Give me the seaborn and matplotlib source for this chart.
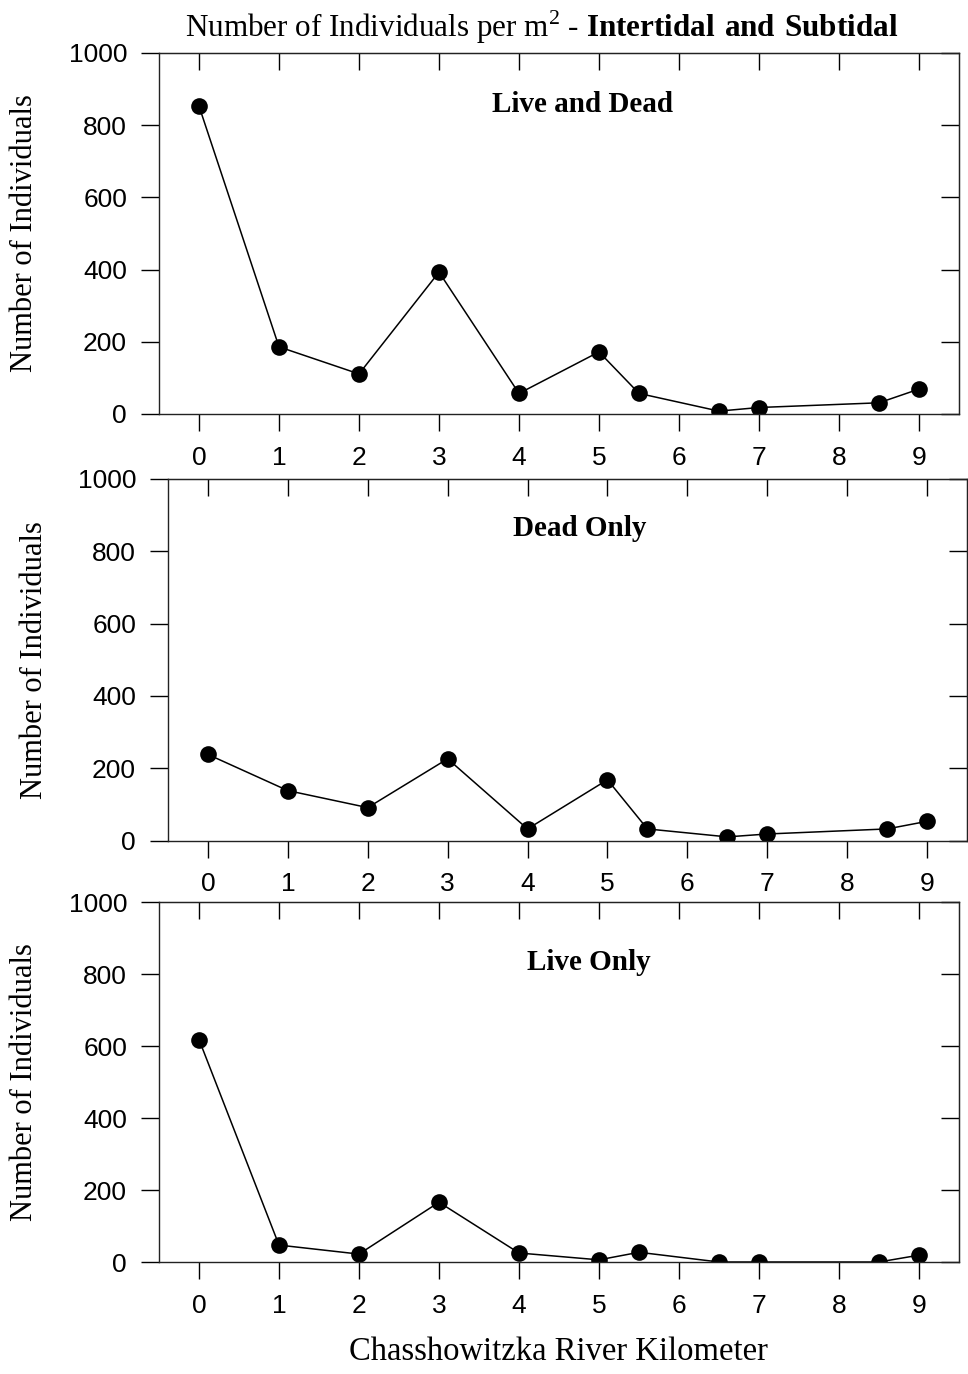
import pandas as pd
import seaborn as sns
import matplotlib.pyplot as plt

# river kilometer stations
km = [0, 1, 2, 3, 4, 5, 5.5, 6.5, 7, 8.5, 9]

# number of individuals per m2
live_and_dead = [853, 186, 111, 393, 57, 172, 57, 8, 18, 31, 69]
dead_only = [238, 138, 91, 226, 32, 168, 32, 10, 18, 32, 53]
live_only = [618, 47, 22, 166, 25, 6, 27, 0, 0, 0, 19]

panel_titles = ["Live and Dead", "Dead Only", "Live Only"]
x_ticks = list(range(10))
y_ticks = [0, 200, 400, 600, 800, 1000]

sns.set_style("ticks")
plt.rcParams["font.family"] = ["Liberation Sans", "DejaVu Sans"]
plt.rcParams["mathtext.fontset"] = "custom"
plt.rcParams["mathtext.rm"] = "Liberation Serif"
plt.rcParams["mathtext.bf"] = "Liberation Serif:bold"
plt.rcParams["text.color"] = "black"
plt.rcParams["axes.labelcolor"] = "black"
plt.rcParams["xtick.color"] = "black"
plt.rcParams["ytick.color"] = "black"

W, H = 968, 1374
fig = plt.figure(figsize=(W / 100, H / 100), dpi=100)

# panel boxes in pixels: left, top, right, bottom
boxes = [(159, 53, 959, 414), (168, 479, 967, 840.5), (159, 902, 959, 1262)]
label_x = [39, 49, 39]
text_pos = [(0.53, 0.856), (0.515, 0.864), (0.5375, 0.833)]
series = [live_and_dead, dead_only, live_only]

for (l, t, r, b), values, title, (tx, ty), lx in zip(boxes, series, panel_titles, text_pos, label_x):
    ax = fig.add_axes([l / W, 1 - b / H, (r - l) / W, (b - t) / H])
    df = pd.DataFrame({"km": km, "count": values})
    sns.lineplot(data=df, x="km", y="count", ax=ax, color="black", linewidth=1.1,
                 marker="o", markersize=12, markeredgewidth=0, markerfacecolor="black")
    ax.set_xlim(-0.5, 9.5)
    ax.set_ylim(0, 1000)
    ax.set_xticks(x_ticks)
    ax.set_yticks(y_ticks)
    ax.tick_params(axis="x", direction="out", length=12, width=1, pad=11, labelsize=19,
                   top=False, bottom=True)
    ax.tick_params(axis="y", direction="out", length=13, width=1, pad=10, labelsize=19,
                   left=True, right=False)
    for s in ax.spines.values():
        s.set_visible(True)
        s.set_linewidth(1.0)
        s.set_color("#222222")

    # top and right ticks point inward
    top = ax.secondary_xaxis("top")
    top.set_xticks(x_ticks)
    top.tick_params(direction="in", length=12, width=1, labeltop=False)
    right = ax.secondary_yaxis("right")
    right.set_yticks(y_ticks)
    right.tick_params(direction="in", length=13, width=1, labelright=False)

    ax.set_xlabel("")
    ax.set_ylabel("Number of Individuals", family="Liberation Serif", fontsize=22)
    ax.yaxis.set_label_coords((lx - l) / (r - l), 0.5)
    ax.text(tx, ty, title, transform=ax.transAxes, ha="center", va="center",
            family="Liberation Serif", fontweight="bold", fontsize=21)

fig.text(542 / W, 1 - 27 / H,
         r"Number of Individuals per m$^2$ - $\mathbf{Intertidal\ and\ Subtidal}$",
         ha="center", va="center", family="Liberation Serif", fontsize=22.4)
fig.text(558 / W, 1 - 1352 / H, "Chasshowitzka River Kilometer",
         ha="center", va="center", family="Liberation Serif", fontsize=23.5)

fig.savefig("out.png", dpi=100, facecolor="white")
